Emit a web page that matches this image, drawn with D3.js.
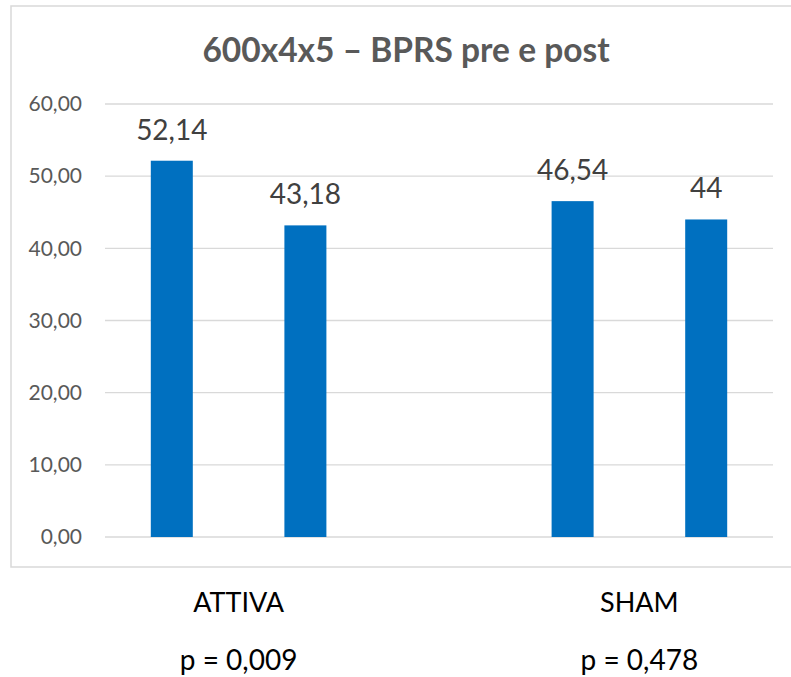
<!DOCTYPE html>
<html>
<head>
<meta charset="utf-8">
<script src="https://cdn.jsdelivr.net/npm/d3@7"></script>
<style>
  html, body { margin: 0; padding: 0; background: #fff; }
  svg { display: block; }
</style>
</head>
<body>
<svg id="chart" width="791" height="677"></svg>
<script>
// BPRS scores, pre and post, for the active and sham groups.
// The middle slot is left empty to separate the two groups.
const slots = ["ATTIVA pre", "ATTIVA post", "gap", "SHAM pre", "SHAM post"];
const values = [52.14, 43.18, null, 46.54, 44];
const groups = ["ATTIVA", "SHAM"];
const groupSlots = [["ATTIVA pre", "ATTIVA post"], ["SHAM pre", "SHAM post"]];
const pValues = ["p = 0,009", "p = 0,478"];
const yTicks = [0, 10, 20, 30, 40, 50, 60];
const title = "600x4x5 \u2013 BPRS pre e post";

const font = "Lato, 'Open Sans', sans-serif";
const svg = d3.select("#chart");

// outer frame of the chart
svg.append("rect")
  .attr("x", 11).attr("y", 6)
  .attr("width", 800).attr("height", 561)
  .attr("fill", "none").attr("stroke", "#d9d9d9").attr("stroke-width", 1.5);

const plot = { left: 105, right: 773, top: 104, bottom: 537 };

const x = d3.scaleBand().domain(slots)
  .range([plot.left, plot.right]).paddingInner(0).paddingOuter(0);
const barW = 42;
const y = d3.scaleLinear().domain([0, 60]).range([plot.bottom, plot.top]);

const fmtTick = v => d3.format(".2f")(v).replace(".", ",");
const fmtLabel = v => String(v).replace(".", ",");

// gridlines
svg.append("g").selectAll("line").data(yTicks).join("line")
  .attr("x1", plot.left).attr("x2", plot.right)
  .attr("y1", d => y(d)).attr("y2", d => y(d))
  .attr("stroke", "#d9d9d9").attr("stroke-width", 1.3);

// y axis labels
const yAxis = d3.axisLeft(y).tickValues(yTicks).tickFormat(fmtTick).tickSize(0).tickPadding(23);
const ya = svg.append("g").attr("transform", `translate(${plot.left},0)`).call(yAxis);
ya.select(".domain").remove();
ya.selectAll("text")
  .attr("font-family", font).attr("font-size", 21).attr("fill", "#595959");

// bars
const bars = slots.map((s, i) => ({ s, v: values[i] })).filter(d => d.v !== null);
svg.append("g").selectAll("rect").data(bars).join("rect")
  .attr("x", d => x(d.s) + x.bandwidth() / 2 - barW / 2)
  .attr("width", barW)
  .attr("y", d => y(d.v))
  .attr("height", d => y(0) - y(d.v))
  .attr("fill", "#0070c0");

// value labels
svg.append("g").selectAll("text").data(bars).join("text")
  .attr("x", d => x(d.s) + x.bandwidth() / 2)
  .attr("y", d => y(d.v) - 21)
  .attr("text-anchor", "middle")
  .attr("font-family", font).attr("font-size", 28).attr("fill", "#404040")
  .text(d => fmtLabel(d.v));

// title
svg.append("text")
  .attr("x", 406).attr("y", 62)
  .attr("text-anchor", "middle")
  .attr("font-family", font).attr("font-size", 33.5).attr("font-weight", "bold")
  .attr("fill", "#595959")
  .text(title);

// group names and p-values below the frame
const groupCenter = i => {
  const [a, b] = groupSlots[i];
  return (x(a) + x(b) + x.bandwidth()) / 2;
};
svg.append("g").selectAll("text").data(groups).join("text")
  .attr("x", (d, i) => groupCenter(i))
  .attr("y", 612)
  .attr("text-anchor", "middle")
  .attr("font-family", font).attr("font-size", 27).attr("fill", "#000")
  .text(d => d);
svg.append("g").selectAll("text").data(pValues).join("text")
  .attr("x", (d, i) => groupCenter(i))
  .attr("y", 670)
  .attr("text-anchor", "middle")
  .attr("font-family", font).attr("font-size", 28).attr("fill", "#000")
  .text(d => d);
</script>
</body>
</html>
